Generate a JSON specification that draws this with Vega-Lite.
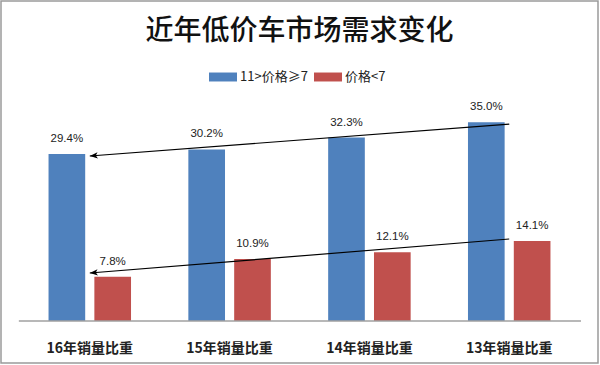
{
  "$schema": "https://vega.github.io/schema/vega-lite/v6.json",
  "width": 597,
  "height": 362,
  "autosize": {"type": "none"},
  "padding": {"left": 1, "top": 1, "right": 2, "bottom": 2},
  "background": "white",
  "config": {"view": {"stroke": "#9a9a9a", "strokeWidth": 1.5}},
  "title": {"text": "近年低价车市场需求变化", "fontSize": 28, "font": "Noto Sans CJK SC", "fontWeight": 500, "color": "#111111", "anchor": "middle", "frame": "group", "offset": -45},
  "datasets": {
    "bars": [
      {"category": "16年销量比重", "series": "11>价格≥7", "value": 0.294},
      {"category": "16年销量比重", "series": "价格<7", "value": 0.078},
      {"category": "15年销量比重", "series": "11>价格≥7", "value": 0.302},
      {"category": "15年销量比重", "series": "价格<7", "value": 0.109},
      {"category": "14年销量比重", "series": "11>价格≥7", "value": 0.323},
      {"category": "14年销量比重", "series": "价格<7", "value": 0.121},
      {"category": "13年销量比重", "series": "11>价格≥7", "value": 0.350},
      {"category": "13年销量比重", "series": "价格<7", "value": 0.141}
    ],
    "arrows": [
      {"category": "13年销量比重", "series": "upper", "value": 0.3468},
      {"category": "16年销量比重", "series": "upper", "value": 0.2905},
      {"category": "13年销量比重", "series": "lower", "value": 0.1444},
      {"category": "16年销量比重", "series": "lower", "value": 0.0845}
    ]
  },
  "layer": [
    {
      "data": {"name": "bars"},
      "mark": {"type": "bar"},
      "encoding": {
        "x": {"field": "category", "type": "nominal", "title": null,
          "scale": {"domain": ["16年销量比重", "15年销量比重", "14年销量比重", "13年销量比重"], "paddingInner": 0.41, "paddingOuter": 0.34},
          "axis": {"orient": "bottom", "offset": -42, "domain": false, "ticks": false, "tickSize": 0, "labelPadding": 20, "labelFontSize": 14, "labelFont": "Noto Sans CJK SC", "labelFontWeight": "bold", "labelColor": "#222222", "labelAngle": 0, "grid": false}},
        "xOffset": {"field": "series", "type": "nominal", "scale": {"domain": ["11>价格≥7", "价格<7"], "paddingInner": 0.2, "paddingOuter": 0}},
        "y": {"field": "value", "type": "quantitative", "axis": null, "scale": {"domain": [-0.0739, 0.5634], "nice": false, "zero": false}},
        "color": {"field": "series", "type": "nominal",
          "scale": {"domain": ["11>价格≥7", "价格<7"], "range": ["#4F81BD", "#C0504D"]},
          "legend": {"orient": "none", "legendX": 208, "legendY": 62, "direction": "horizontal", "title": null, "symbolType": "M-1,-0.32H1V0.32H-1Z", "symbolSize": 784, "symbolStrokeWidth": 0, "labelFontSize": 13, "labelFont": "Noto Sans CJK SC", "labelColor": "#222222", "labelOffset": 3, "columnPadding": 6}}
      }
    },
    {
      "data": {"name": "bars"},
      "mark": {"type": "text", "font": "Liberation Sans", "fontSize": 11.5, "baseline": "alphabetic", "dy": -12, "color": "#222222"},
      "encoding": {
        "x": {"field": "category", "type": "nominal", "title": null},
        "xOffset": {"field": "series", "type": "nominal"},
        "y": {"field": "value", "type": "quantitative", "axis": null},
        "text": {"field": "value", "type": "quantitative", "format": ".1%"}
      }
    },
    {
      "data": {"values": [{}]},
      "mark": {"type": "rule", "color": "#a0a0a0", "strokeWidth": 1.5},
      "encoding": {
        "x": {"datum": "16年销量比重", "type": "nominal", "bandPosition": -0.36, "title": null},
        "x2": {"datum": "13年销量比重", "bandPosition": 1.37},
        "y": {"datum": 0, "type": "quantitative", "axis": null}
      }
    },
    {
      "data": {"name": "arrows"},
      "mark": {"type": "line", "color": "#000000", "strokeWidth": 1.2},
      "encoding": {
        "x": {"field": "category", "type": "nominal", "title": null},
        "y": {"field": "value", "type": "quantitative", "axis": null},
        "detail": {"field": "series", "type": "nominal"}
      }
    },
    {
      "data": {"name": "arrows"},
      "transform": [{"filter": "datum.category === '16年销量比重'"}],
      "mark": {"type": "point", "shape": "M0,0L2,-0.8L1.5,0L2,0.8Z", "filled": true, "color": "#000000", "size": 64, "angle": 355.5, "opacity": 1},
      "encoding": {
        "x": {"field": "category", "type": "nominal", "title": null},
        "y": {"field": "value", "type": "quantitative", "axis": null}
      }
    }
  ]
}
